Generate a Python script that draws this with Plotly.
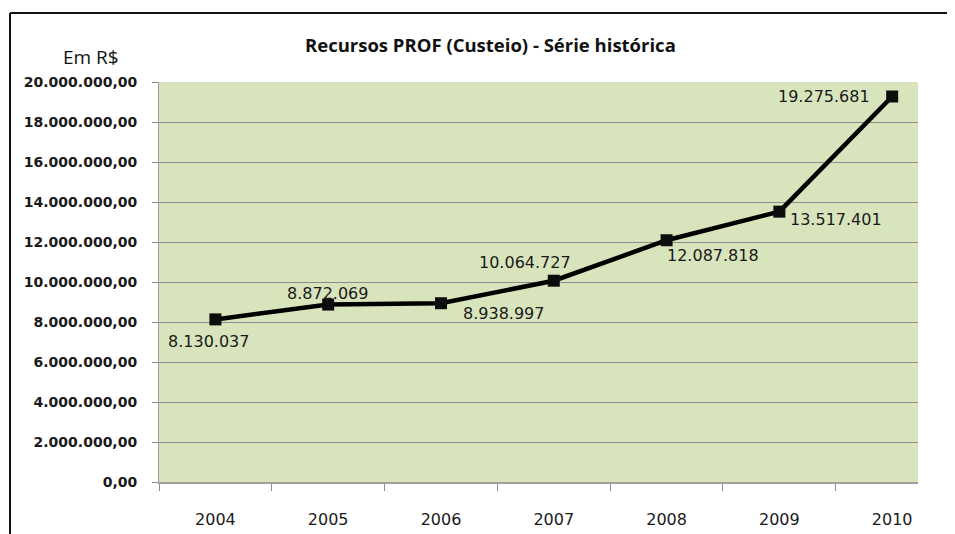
import plotly.graph_objects as go

# ---- data ----
years = ["2004", "2005", "2006", "2007", "2008", "2009", "2010"]
values = [8130037, 8872069, 8938997, 10064727, 12087818, 13517401, 19275681]
y_ticks = [0, 2000000, 4000000, 6000000, 8000000, 10000000, 12000000,
           14000000, 16000000, 18000000, 20000000]
title_text = "Recursos PROF (Custeio) - Série histórica"
unit_text = "Em R$"

# ---- label offsets (pixels, style only) ----
label_dx = [-7, -1, 63, -29, 46, 57, -68]
label_dy = [-22, 11, -10, 18, -15, -8, 0]

OFF = 8  # page body margin
W, H = 955 - OFF, 534 - OFF
L, R, T, B = 159 - OFF, 37, 82 - OFF, 52
pw, ph = W - L - R, H - T - B


def px_x(x):  # page pixel -> paper coordinate
    return (x - OFF - L) / pw


def px_y(y):
    return (H - B - (y - OFF)) / ph


def fmt_br(v):
    return f"{v:,.0f}".replace(",", ".")


fig = go.Figure()
fig.add_trace(go.Scatter(
    x=years, y=values, mode="lines+markers",
    line=dict(color="#000000", width=4.5),
    marker=dict(symbol="square", size=12, color="#0d0d0d"),
    hoverinfo="skip", showlegend=False,
))

for i, v in enumerate(values):
    fig.add_annotation(
        x=i, y=v, text=fmt_br(v), showarrow=False,
        xanchor="center", yanchor="middle",
        xshift=label_dx[i], yshift=label_dy[i],
        font=dict(family="DejaVu Sans", size=16, color="#1a1a1a"),
    )

# title and unit label
fig.add_annotation(
    xref="paper", yref="paper", x=px_x(490), y=px_y(45),
    xanchor="center", yanchor="middle",
    text=title_text, showarrow=False,
    font=dict(family="Open Sans", size=18.5, color="#111111", weight="bold"),
)
fig.add_annotation(
    xref="paper", yref="paper", x=px_x(91), y=px_y(57),
    xanchor="center", yanchor="middle",
    text=unit_text, showarrow=False,
    font=dict(family="Open Sans", size=19, color="#111111"),
)

# chart border (top and left edges visible)
fig.add_shape(type="line", xref="paper", yref="paper",
              x0=px_x(10), x1=px_x(960), y0=px_y(13), y1=px_y(13),
              line=dict(color="#111111", width=2))
fig.add_shape(type="line", xref="paper", yref="paper",
              x0=px_x(10), x1=px_x(10), y0=px_y(13), y1=px_y(540),
              line=dict(color="#111111", width=2))

fig.update_layout(
    width=W, height=H,
    margin=dict(l=L, r=R, t=T, b=B, pad=0, autoexpand=False),
    paper_bgcolor="white", plot_bgcolor="#d8e4bc",
    separators=",.",
    showlegend=False,
)
fig.update_xaxes(
    type="category", range=[-0.5, 6.229], automargin=False,
    tickson="boundaries", ticks="outside", ticklen=7, tickcolor="#8c8c8c",
    showgrid=False, showline=True, linecolor="#a0a0a0", linewidth=2,
    ticklabelstandoff=22,
    tickfont=dict(family="DejaVu Sans", size=16, color="#1a1a1a"),
    fixedrange=True,
)
fig.update_yaxes(
    range=[0, 20000000], tickvals=y_ticks, tickformat=",.2f", automargin=False,
    ticks="outside", ticklen=6, tickcolor="#8c8c8c",
    showgrid=True, gridcolor="#8c8c8c", gridwidth=1,
    showline=True, linecolor="#a0a0a0", linewidth=1,
    zeroline=False, ticklabelstandoff=12,
    tickfont=dict(family="DejaVu Sans", size=14, color="#1a1a1a", weight="bold"),
    fixedrange=True,
)

fig.write_html("out.html")
